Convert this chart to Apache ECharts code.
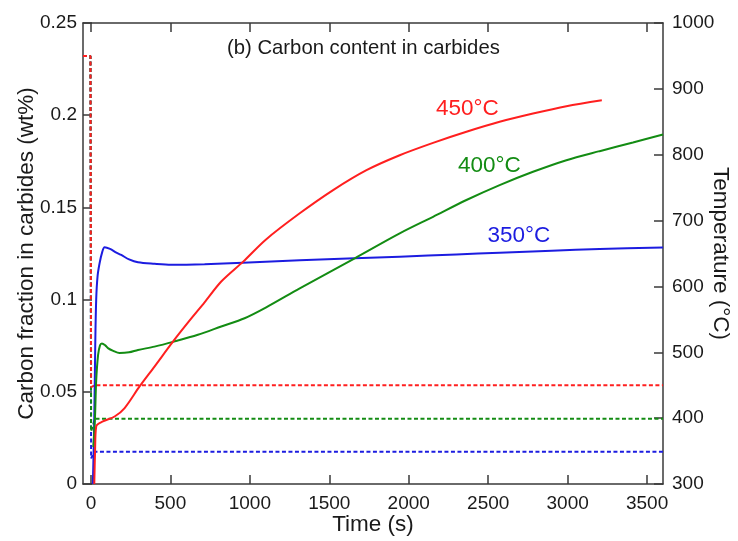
<!DOCTYPE html>
<html>
<head>
<meta charset="utf-8">
<script src="https://cdn.jsdelivr.net/npm/echarts@6/dist/echarts.min.js"></script>
<style>
html,body{margin:0;padding:0;background:#fff;}
#chart{width:738px;height:541px;}
</style>
</head>
<body>
<div id="chart"></div>
<script>
// ---- data ----
const timeTicks = [0, 500, 1000, 1500, 2000, 2500, 3000, 3500];

// carbon fraction in carbides (wt%), left axis
const t350 = [12, 20, 27, 33, 42, 55, 70, 86, 120, 160, 191, 240, 296, 400, 505, 715, 956, 1314, 1660, 1943, 2300, 2572, 2900, 3201, 3600];
const c350 = [0, 0.03, 0.075, 0.1, 0.113, 0.12, 0.1255, 0.1284, 0.1275, 0.1255, 0.1242, 0.1218, 0.1202, 0.1194, 0.1189, 0.1192, 0.12, 0.1213, 0.1224, 0.1233, 0.1245, 0.1254, 0.1265, 0.1274, 0.1283];

const t400 = [15, 25, 33, 45, 57, 69, 90, 107, 140, 180, 240, 296, 400, 522, 673, 820, 967, 1103, 1314, 1660, 1943, 2153, 2363, 2572, 2782, 2992, 3201, 3411, 3600];
const c400 = [0.02, 0.035, 0.056, 0.07, 0.0752, 0.0762, 0.0752, 0.0737, 0.0722, 0.071, 0.0714, 0.0727, 0.0745, 0.0772, 0.0809, 0.0854, 0.0899, 0.0958, 0.1061, 0.1224, 0.1359, 0.1449, 0.154, 0.1621, 0.1693, 0.1756, 0.1805, 0.1852, 0.1895];

const t450 = [21, 26, 33, 75, 149, 212, 306, 400, 516, 610, 715, 820, 958, 1100, 1314, 1524, 1734, 1943, 2153, 2363, 2572, 2782, 2992, 3215];
const c450 = [0, 0.018, 0.0312, 0.0339, 0.0366, 0.0412, 0.0529, 0.0637, 0.0772, 0.0875, 0.0985, 0.1098, 0.1206, 0.1325, 0.1468, 0.1594, 0.1702, 0.1783, 0.185, 0.191, 0.1964, 0.2009, 0.2049, 0.2081];

// temperature (°C), right axis
const tTemp350 = [-50, -3, 1, 10, 25, 3600];
const temp350 = [950, 950, 339, 342, 349, 349];
const tTemp400 = [-50, -3, 1, 10, 25, 3600];
const temp400 = [950, 950, 380, 387, 399, 399];
const tTemp450 = [-50, -3, 1, 10, 25, 3600];
const temp450 = [950, 950, 447, 449, 450, 450];

const labels = ['350°C', '400°C', '450°C'];
const titleText = '(b) Carbon content in carbides';

// ---- chart ----
const FONT = '"Liberation Sans", Arial, sans-serif';
const RED = '#ff1f1f', GREEN = '#138c13', BLUE = '#1c1ce0';
const AX = '#3a3a3a', TXT = '#1a1a1a';
const zip = (a, b) => a.map((x, i) => [x, b[i]]);
const plain = v => String(v);

const chart = echarts.init(document.getElementById('chart'), null, {renderer: 'canvas'});

const xCommon = {
  type: 'value', min: -50, max: 3600,
  splitLine: {show: false},
  axisLine: {show: true, onZero: false, lineStyle: {color: AX, width: 1.5}},
  axisTick: {show: true, inside: true, length: 9, customValues: timeTicks, lineStyle: {color: AX, width: 1.5}}
};

function solid(name, t, v, color) {
  return {
    name, type: 'line', xAxisIndex: 0, yAxisIndex: 0,
    data: zip(t, v), showSymbol: false, smooth: 0.3,
    lineStyle: {color, width: 2}, itemStyle: {color}, z: 3
  };
}
function dotted(name, t, v, color) {
  return {
    name, type: 'line', xAxisIndex: 0, yAxisIndex: 1,
    data: zip(t, v), showSymbol: false, smooth: false,
    lineStyle: {color, width: 2, type: [4, 2.5]}, itemStyle: {color}, z: 2
  };
}
function note(text, x, y, size, color) {
  return {type: 'text', x, y, style: {text, font: size + 'px ' + FONT, fill: color, align: 'left', verticalAlign: 'middle'}};
}

chart.setOption({
  animation: false,
  backgroundColor: '#fff',
  textStyle: {fontFamily: FONT},
  grid: {left: 83, right: 75, top: 23, bottom: 57, containLabel: false, outerBoundsMode: 'none'},
  xAxis: [
    Object.assign({}, xCommon, {
      position: 'bottom',
      axisLabel: {customValues: timeTicks, formatter: plain, fontSize: 19, color: TXT, margin: 10, fontFamily: FONT},
      name: 'Time (s)', nameLocation: 'middle', nameGap: 29, nameMoveOverlap: false,
      nameTextStyle: {fontSize: 22.5, color: TXT, fontFamily: FONT}
    }),
    Object.assign({}, xCommon, {
      position: 'top',
      axisLabel: {show: false}
    })
  ],
  yAxis: [
    {
      type: 'value', min: 0, max: 0.25, interval: 0.05, position: 'left',
      splitLine: {show: false},
      axisLine: {show: true, onZero: false, lineStyle: {color: AX, width: 1.5}},
      axisTick: {show: true, inside: true, length: 9, lineStyle: {color: AX, width: 1.5}},
      axisLabel: {formatter: plain, fontSize: 19, color: TXT, margin: 6, fontFamily: FONT},
      name: 'Carbon fraction in carbides (wt%)', nameLocation: 'middle', nameRotate: 90, nameGap: 45, nameMoveOverlap: false,
      nameTextStyle: {fontSize: 22.5, color: TXT, fontFamily: FONT}
    },
    {
      type: 'value', min: 300, max: 1000, interval: 100, position: 'right',
      splitLine: {show: false},
      axisLine: {show: true, onZero: false, lineStyle: {color: AX, width: 1.5}},
      axisTick: {show: true, inside: true, length: 9, lineStyle: {color: AX, width: 1.5}},
      axisLabel: {formatter: plain, fontSize: 19, color: TXT, margin: 9, fontFamily: FONT},
      name: 'Temperature (°C)', nameLocation: 'middle', nameRotate: -90, nameGap: 46, nameMoveOverlap: false,
      nameTextStyle: {fontSize: 22.5, color: TXT, fontFamily: FONT}
    }
  ],
  series: [
    dotted('T350', tTemp350, temp350, BLUE),
    dotted('T400', tTemp400, temp400, GREEN),
    dotted('T450', tTemp450, temp450, RED),
    solid('350', t350, c350, BLUE),
    solid('400', t400, c400, GREEN),
    solid('450', t450, c450, RED)
  ],
  graphic: [
    note(titleText, 227, 48, 20.3, TXT),
    note(labels[2], 436, 108.5, 22.5, RED),
    note(labels[1], 458, 166, 22.5, GREEN),
    note(labels[0], 487.5, 235.5, 22.5, BLUE)
  ]
});
</script>
</body>
</html>
